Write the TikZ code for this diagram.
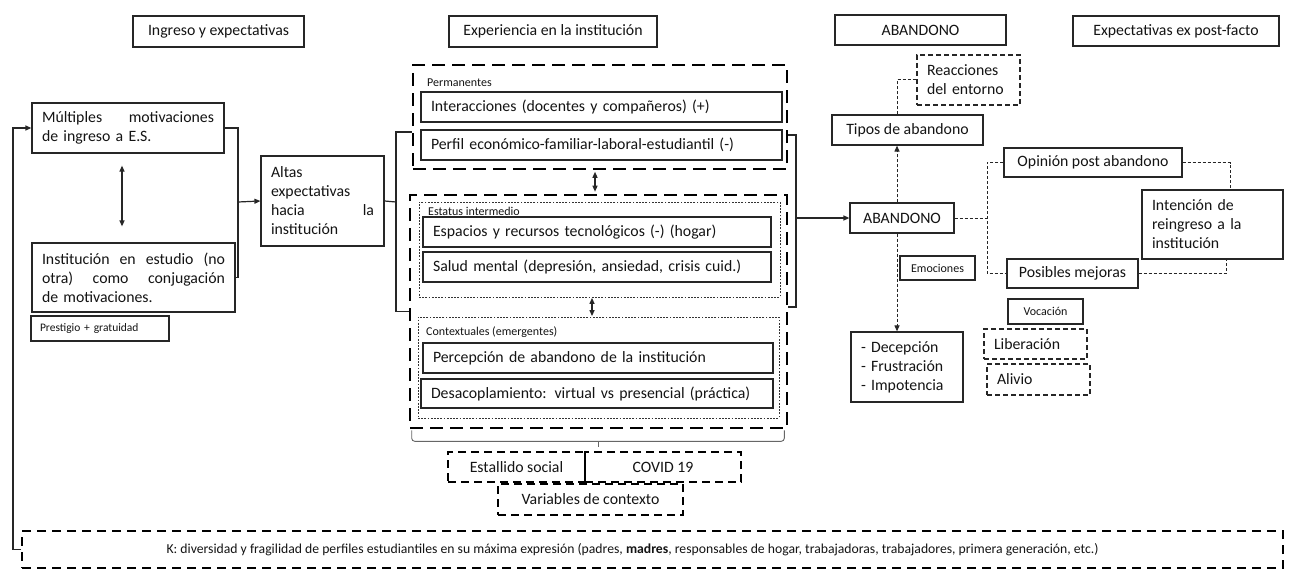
\documentclass[tikz,border=0pt]{standalone}
\usepackage{fontspec}
\setmainfont{Carlito}
\usetikzlibrary{arrows.meta,calc}
\newcommand\fmain{\fontsize{15.8}{19}\selectfont}
\newcommand\fsmall{\fontsize{12}{14}\selectfont}
\newcommand\fprest{\fontsize{11.5}{13}\selectfont}
\newcommand\fk{\fontsize{13.7}{15}\selectfont}
\begin{document}
\begin{tikzpicture}[x=1pt,y=-1pt,
  every node/.style={font=\fmain, text=black!92},
  sb/.style={draw=black!85, line width=1.2pt, inner sep=0pt, align=center},
  lb/.style={sb, align=left, inner xsep=10pt, inner ysep=0pt},
  tdash/.style={draw=black, line width=2.6pt, dash pattern=on 13pt off 7pt, inner sep=0pt},
  mdash/.style={draw=black, line width=2pt, dash pattern=on 8pt off 5pt, inner sep=0pt, align=center},
  sdash/.style={draw=black!85, line width=1.3pt, dash pattern=on 5pt off 3pt, inner sep=0pt, align=left, inner xsep=10pt},
  dotbox/.style={draw=black!80, line width=0.8pt, dash pattern=on 1.8pt off 1.4pt, inner sep=0pt},
  lab/.style={font=\fsmall, anchor=west, inner sep=0pt},
  conn/.style={draw=black!85, line width=1.2pt},
  dconn/.style={draw=black!85, line width=1pt, dash pattern=on 3pt off 2pt},
  arr/.style={-{Triangle[length=6pt,width=5pt]}},
  darr/.style={{Triangle[length=6pt,width=5pt]}-{Triangle[length=6pt,width=5pt]}},
]
\fill[white] (0,0) rectangle (1296,578);
\useasboundingbox (0,0) rectangle (1296,578);

% headers
\node[sb, minimum width=171pt, minimum height=31pt] (h1) at (218.5,31.5) {Ingreso y expectativas};
\node[sb, minimum width=208pt, minimum height=31pt] (h2) at (553,31.5) {Experiencia en la institución};
\node[sb, minimum width=171pt, minimum height=30pt] (h3) at (920.5,30) {ABANDONO};
\node[sb, minimum width=206pt, minimum height=30pt] (h4) at (1176,31) {Expectativas ex post-facto};

% left column
\node[lb, text width=172pt, minimum height=50pt] (mult) at (128,128) {Múltiples\hfill motivaciones\\de ingreso a E.S.};
\node[lb, text width=183pt, minimum height=69pt] (inst) at (133.5,277.5) {Institución\hfill en\hfill estudio\hfill (no\\otra)\hfill como\hfill conjugación\\de motivaciones.};
\node[lb, font=\fprest, inner xsep=9pt, text width=120pt, minimum height=25pt] (prest) at (100,328.5) {Prestigio + gratuidad};
\node[lb, text width=103pt, minimum height=90pt] (altas) at (322.5,201) {Altas\\expectativas\\hacia\hfill la\\institución};

% middle column
\node[tdash, minimum width=374pt, minimum height=104pt] (perm) at (600,117) {};
\node[lab] (permlab) at (427,83) {Permanentes};
\node[lb, text width=341pt, minimum height=30pt] (inter) at (601.5,107) {Interacciones (docentes y compañeros) (+)};
\node[lb, text width=341pt, minimum height=30pt] (perfil) at (601.5,145) {Perfil económico-familiar-laboral-estudiantil (-)};

\node[tdash, minimum width=377pt, minimum height=233pt] (big) at (598.5,311.5) {};
\node[dotbox, minimum width=361pt, minimum height=95pt] (estatus) at (599.5,249.5) {};
\node[lab] (estlab) at (428,211) {Estatus intermedio};
\node[lb, text width=328pt, minimum height=30pt] (espacios) at (597,232) {Espacios y recursos tecnológicos (-) (hogar)};
\node[lb, text width=328pt, minimum height=30pt] (salud) at (597,267) {Salud mental (depresión, ansiedad, crisis cuid.)};
\node[dotbox, minimum width=361pt, minimum height=101pt] (context) at (598.5,367.5) {};
\node[lab] (conlab) at (426,332) {Contextuales (emergentes)};
\node[lb, text width=330pt, minimum height=30pt] (percep) at (598,358) {Percepción de abandono de la institución};
\node[lb, text width=332pt, minimum height=29pt] (desac) at (597,393.5) {Desacoplamiento: virtual vs presencial (práctica)};

\node[mdash, minimum width=137pt, minimum height=30pt] (estallido) at (516.5,467) {Estallido social};
\node[mdash, minimum width=156pt, minimum height=30pt] (covid) at (663,467) {COVID 19};
\node[mdash, minimum width=185pt, minimum height=31pt] (vars) at (590.5,499.5) {Variables de contexto};

\node[mdash, dash pattern=on 9pt off 6pt, font=\fk, minimum width=1261pt, minimum height=37pt] (K) at (652.5,549.5) {K: diversidad y fragilidad de perfiles estudiantiles en su máxima expresión (padres, \textbf{madres}, responsables de hogar, trabajadoras, trabajadores, primera generación, etc.)\hspace*{40pt}};

% right part
\node[sdash, text width=83pt, minimum height=50pt] (reac) at (968.5,80) {Reacciones\\del entorno};
\node[sb, minimum width=151pt, minimum height=30pt] (tipos) at (907.5,130) {Tipos de abandono};
\node[sb, minimum width=104pt, minimum height=30pt] (aband) at (902,218) {ABANDONO};
\node[sb, minimum width=178pt, minimum height=29pt] (opin) at (1093,162.5) {Opinión post abandono};
\node[lb, text width=121pt, minimum height=69pt] (intenc) at (1212.5,224.5) {Intención de\\reingreso a la\\institución};
\node[sb, minimum width=131pt, minimum height=29pt] (posib) at (1072.5,273.5) {Posibles mejoras};
\node[sb, font=\fsmall, minimum width=75pt, minimum height=24pt] (emoc) at (937.5,268) {Emociones};
\node[lb, text width=92pt, minimum height=70pt] (decep) at (907,367) {- Decepción\\- Frustración\\- Impotencia};
\node[sb, font=\fsmall, minimum width=75pt, minimum height=25pt] (voc) at (1045.5,311.5) {Vocación};
\node[sdash, text width=83pt, minimum height=30pt] (liber) at (1035.5,344) {Liberación};
\node[sdash, text width=83pt, minimum height=31pt] (alivio) at (1038.5,379.5) {Alivio};

% connectors left
\coordinate (brL) at (238,202);
\draw[conn] (mult.east) -| (brL) |- (inst.east);
\draw[conn, arr] (brL) -- (altas.west);
\draw[conn, darr] ([shift={(-6,12)}]mult.south) -- ([shift={(-11.5,-16)}]inst.north);

\coordinate (brM) at (396,202);
\draw[conn] (altas.east) -- (brM);
\draw[conn] ([yshift=-15pt]perm.west) -| (brM) |- (big.west);

\draw[conn, darr] ([shift={(-5,1.5)}]perm.south) -- ([shift={(-3.5,-2)}]big.north);
\draw[conn, darr] ([shift={(-7.5,0.5)}]estatus.south) -- ([shift={(-6.5,-0.5)}]context.north);

% brace under big box
\draw[draw=black!60, line width=0.9pt, rounded corners=3pt] ([shift={(3,1)}]big.south west) |- ([yshift=-12pt]big.south) -| ([shift={(-4,1)}]big.south east);
\draw[draw=black!60, line width=0.9pt] ([yshift=-12pt]big.south) -- ([yshift=-18pt]big.south);

% right bracket
\coordinate (brR) at (796,218);
\draw[conn] ([yshift=-18pt]perm.east) -| (brR) |- ([yshift=4.5pt]big.east);
\draw[conn, arr] (brR) -- (aband.west);

% abandono connectors
\draw[dconn, arr] ([xshift=-5pt]aband.north) -- ([xshift=-5pt]aband.north |- tipos.south);
\draw[dconn] ([xshift=-10.5pt]tipos.north) |- (reac.west);
\draw[dconn, arr] ([xshift=-5pt]aband.south) -- ([xshift=-5pt]aband.south |- decep.north);
\coordinate (brA) at (987,218);
\draw[dconn] (aband.east) -- (brA);
\draw[dconn] (opin.west) -| (brA) |- (posib.west);
\draw[dconn] (opin.east) -| ([xshift=17.5pt]intenc.north);
\draw[dconn] (posib.east) -| ([xshift=13.5pt]intenc.south);

% feedback
\draw[conn, arr] (K.west) -- ++(-8,0) |- (mult.west);
\end{tikzpicture}
\end{document}
